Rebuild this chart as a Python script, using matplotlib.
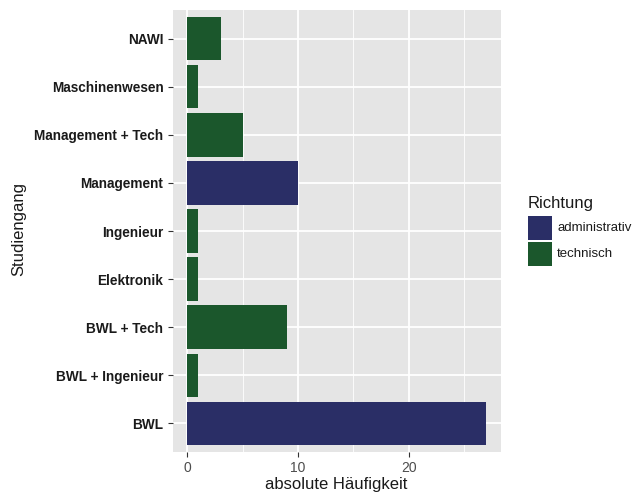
import matplotlib
matplotlib.use("Agg")
import matplotlib.pyplot as plt
from matplotlib.patches import Rectangle

categories = ["BWL", "BWL + Ingenieur", "BWL + Tech", "Elektronik", "Ingenieur",
              "Management", "Management + Tech", "Maschinenwesen", "NAWI"]
values = [27, 1, 9, 1, 1, 10, 5, 1, 3]
richtung = ["administrativ", "technisch", "technisch", "technisch", "technisch",
            "administrativ", "technisch", "technisch", "technisch"]
legend_levels = ["administrativ", "technisch"]
colors = {"administrativ": "#2A2E66", "technisch": "#1B572C"}
x_ticks = [0, 10, 20]

plt.rcParams['font.family'] = ['Liberation Sans', 'DejaVu Sans']

W, H = 636, 493
fig = plt.figure(figsize=(W / 100, H / 100), dpi=100)
ax = fig.add_axes([172.5 / W, 1 - 452 / H, (501 - 172.5) / W, (452 - 10) / H])
ax.set_facecolor("#E5E5E5")

ypos = list(range(len(categories)))
ax.barh(ypos, values, height=0.9, color=[colors[r] for r in richtung], zorder=3)

xmax = max(values)
ax.set_xlim(-0.05 * xmax, xmax * 1.05)
ax.set_ylim(-0.6, len(categories) - 1 + 0.6)

ax.set_xticks(x_ticks)
ax.set_xticks([5, 15, 25], minor=True)
ax.set_yticks(ypos)
ax.set_yticklabels(categories, fontweight="bold", fontsize=9.8, color="#1A1A1A")
ax.set_xticklabels([str(t) for t in x_ticks], fontsize=10, color="#4D4D4D")

ax.grid(True, which="major", color="white", linewidth=1.3, zorder=0)
ax.grid(True, which="minor", axis="x", color="white", linewidth=0.6, zorder=0)
ax.set_axisbelow(True)
for s in ax.spines.values():
    s.set_visible(False)
ax.tick_params(axis="both", which="major", length=3.5, width=0.8, color="#333333", pad=3)
ax.tick_params(axis="x", which="minor", length=0)

fig.text(336.5 / W, 1 - 489 / H, "absolute Häufigkeit", fontsize=12, color="#1A1A1A",
         ha="center", va="baseline")
fig.text(19 / W, 1 - 229 / H, "Studiengang", fontsize=12, color="#1A1A1A",
         ha="center", va="center", rotation=90)

# legend
fig.text(528 / W, 1 - 208 / H, "Richtung", fontsize=12, color="#1A1A1A",
         ha="left", va="baseline")
key_tops = [216, 242]
for lvl, top in zip(legend_levels, key_tops):
    fig.add_artist(Rectangle((528 / W, 1 - (top + 24) / H), 24 / W, 24 / H,
                             transform=fig.transFigure, facecolor=colors[lvl],
                             edgecolor="none"))
    fig.text(557 / W, 1 - (top + 12) / H, lvl, fontsize=9.5, color="#1A1A1A",
             ha="left", va="center")

fig.savefig("out.png", dpi=100, facecolor="white")
